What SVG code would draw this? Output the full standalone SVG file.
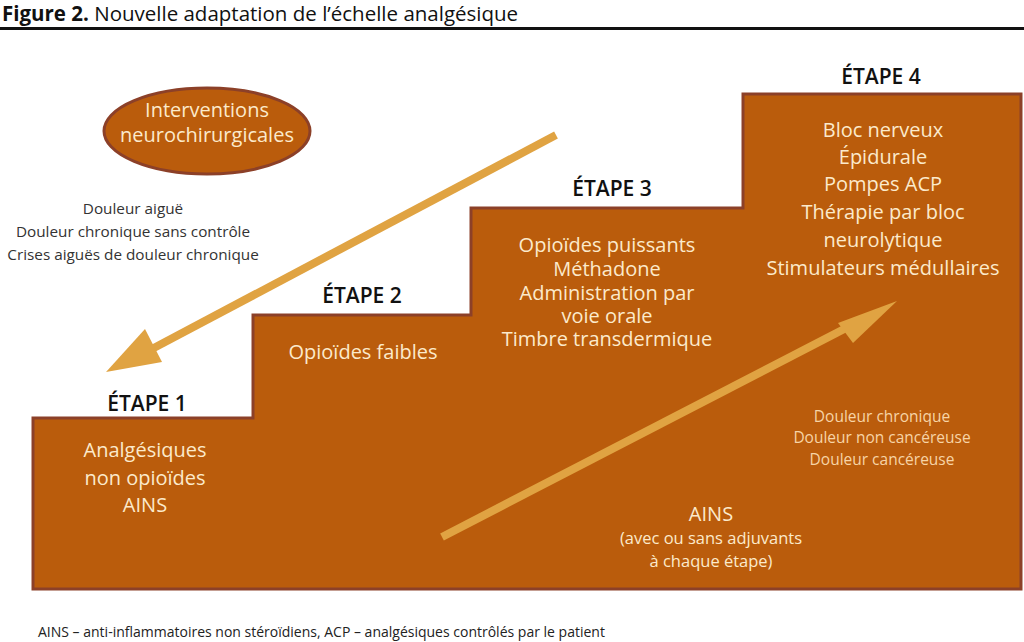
<svg xmlns="http://www.w3.org/2000/svg" width="1024" height="642" viewBox="0 0 1024 642">
<style>
text{font-family:"Open Sans","Noto Sans","DejaVu Sans",sans-serif}
.step{fill:#111;font-size:21px;font-weight:600;text-anchor:middle}
.in{fill:#FCEACB;font-size:20px;text-anchor:middle}
.sm{fill:#FCEACB;font-size:16.5px;text-anchor:middle}
.gray{fill:#333;font-size:15.3px;text-anchor:middle}
.lt{fill:#F7D4A6;font-size:15.5px;text-anchor:middle}
.arrow{fill:#E0A342;stroke:none}
.shaft{stroke:#E0A342;stroke-width:8;stroke-linecap:butt;fill:none}
</style>
<rect width="1024" height="642" fill="#fff"/>
<g id="title">
<text x="2" y="21" font-size="20.5" fill="#111"><tspan font-weight="700">Figure 2.</tspan> Nouvelle adaptation de l’échelle analgésique</text>
<rect x="0" y="27" width="1024" height="3" fill="#111"/>
</g>
<g id="staircase">
<polygon points="33,418 253,418 253,315 471,315 471,208 743,208 743,94 1021,94 1021,589 33,589" fill="#BA5C0C" stroke="#8C4028" stroke-width="3"/>
</g>
<g id="etape1">
<text class="step" x="147" y="411">ÉTAPE 1</text>
<text class="in" x="145" y="457">Analgésiques</text>
<text class="in" x="145" y="485">non opioïdes</text>
<text class="in" x="145" y="512">AINS</text>
</g>
<g id="etape2">
<text class="step" x="362" y="303">ÉTAPE 2</text>
<text class="in" x="363" y="359">Opioïdes faibles</text>
</g>
<g id="etape3">
<text class="step" x="612" y="196">ÉTAPE 3</text>
<text class="in" x="607" y="252">Opioïdes puissants</text>
<text class="in" x="607" y="276">Méthadone</text>
<text class="in" x="607" y="300">Administration par</text>
<text class="in" x="607" y="323">voie orale</text>
<text class="in" x="607" y="346">Timbre transdermique</text>
</g>
<g id="etape4">
<text class="step" x="881" y="84">ÉTAPE 4</text>
<text class="in" x="883" y="137">Bloc nerveux</text>
<text class="in" x="883" y="164">Épidurale</text>
<text class="in" x="883" y="191">Pompes  ACP</text>
<text class="in" x="883" y="219">Thérapie par bloc</text>
<text class="in" x="883" y="247">neurolytique</text>
<text class="in" x="883" y="275">Stimulateurs médullaires</text>
</g>
<g id="interventions">
<ellipse cx="207" cy="131" rx="103" ry="43" fill="#BA5C0C" stroke="#8C4028" stroke-width="3"/>
<text class="in" x="207" y="117">Interventions</text>
<text class="in" x="207" y="142">neurochirurgicales</text>
</g>
<g id="aigue">
<text class="gray" x="133" y="214">Douleur aiguë</text>
<text class="gray" x="133" y="237">Douleur chronique sans contrôle</text>
<text class="gray" x="133" y="260">Crises aiguës de douleur chronique</text>
</g>
<g id="chronique">
<text class="lt" x="882" y="422">Douleur chronique</text>
<text class="lt" x="882" y="443">Douleur non cancéreuse</text>
<text class="lt" x="882" y="465">Douleur cancéreuse</text>
</g>
<g id="ains">
<text class="in" x="711" y="521">AINS</text>
<text class="sm" x="711" y="544">(avec ou sans adjuvants</text>
<text class="sm" x="711" y="567">à chaque étape)</text>
</g>
<g id="connectors">
<line class="shaft" x1="556" y1="135" x2="150" y2="350"/>
<polygon class="arrow" points="106,372 145,329 162,362"/>
<line class="shaft" x1="442" y1="537" x2="850" y2="326"/>
<polygon class="arrow" points="897,301 838,323 853,343"/>
</g>
<g id="footnote">
<text x="38" y="637" font-size="14" fill="#222">AINS – anti-inflammatoires non stéroïdiens, ACP – analgésiques contrôlés par le patient</text>
</g>
</svg>
